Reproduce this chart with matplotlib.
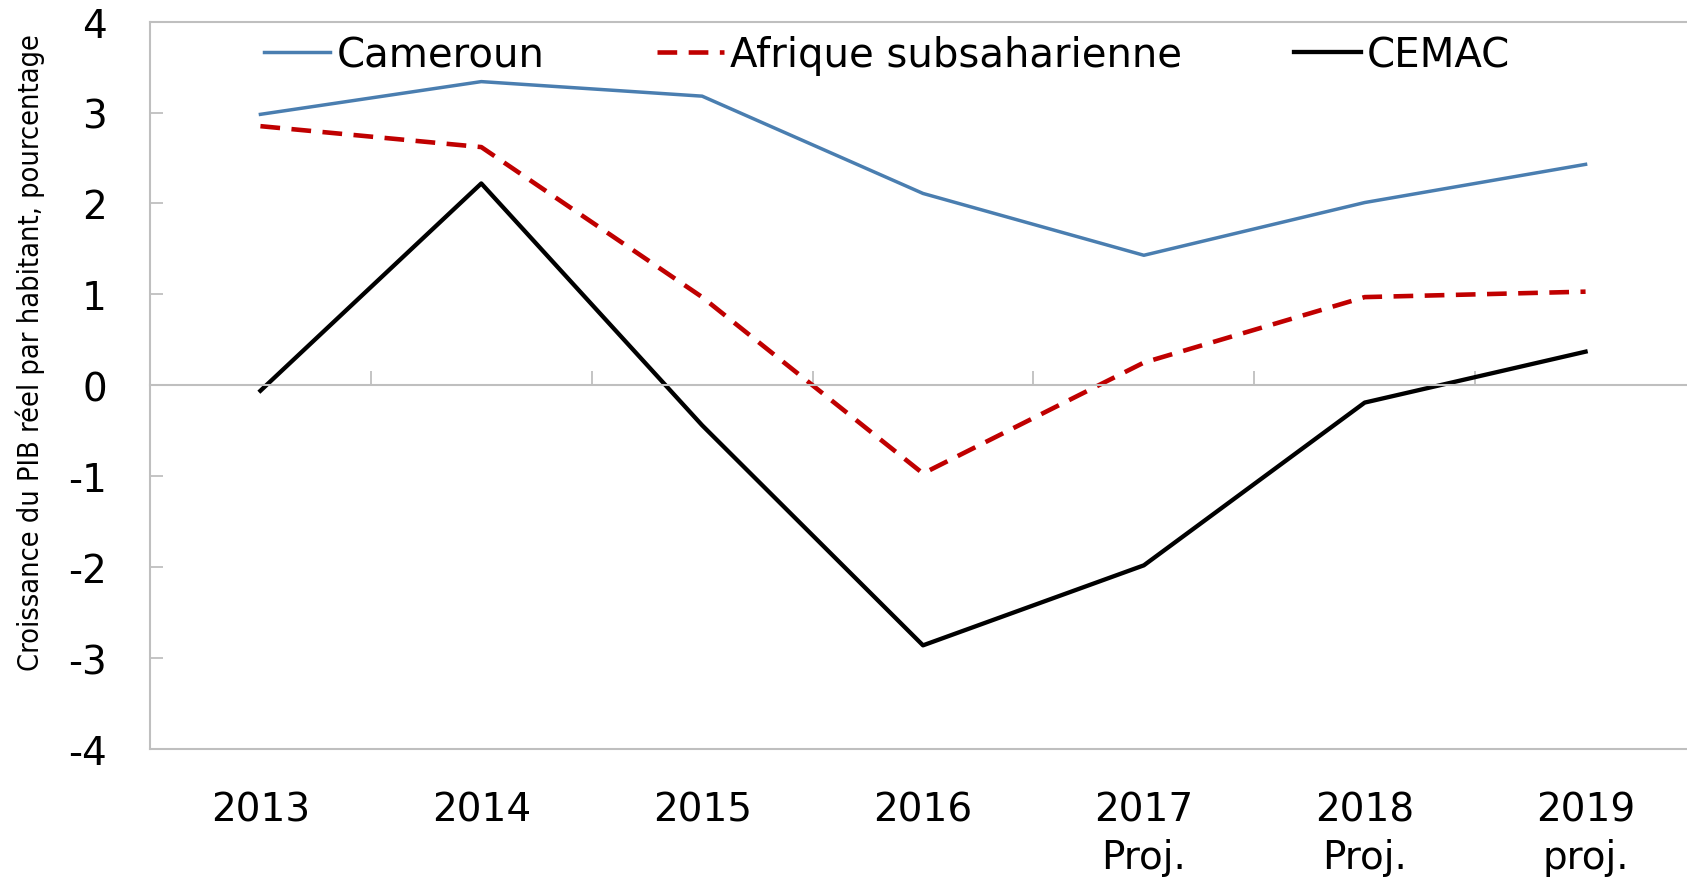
import numpy as np
import matplotlib
matplotlib.use('Agg')
import matplotlib.pyplot as plt

years = ['2013', '2014', '2015', '2016', '2017\nProj.', '2018\nProj.', '2019\nproj.']
cameroun = [2.98, 3.34, 3.18, 2.11, 1.43, 2.01, 2.43]
afrique = [2.85, 2.62, 0.97, -0.97, 0.25, 0.97, 1.03]
cemac = [-0.06, 2.22, -0.44, -2.86, -1.98, -0.19, 0.37]
yticks = [-4, -3, -2, -1, 0, 1, 2, 3, 4]

plt.rcParams['font.family'] = ['DejaVu Sans']
plt.rcParams['axes.unicode_minus'] = False

fig = plt.figure(figsize=(16.87, 8.79), dpi=100)
ax = fig.add_axes([150/1687, 1-750/879, (1696-150)/1687, (750-22.6)/879])

x = np.arange(len(years))
ax.plot(x, cameroun, color='#4A7EB0', lw=2.5, label='Cameroun')
ax.plot(x, afrique, color='#C00000', lw=3.3, dashes=(4.3, 2.5), label='Afrique subsaharienne')
ax.plot(x, cemac, color='black', lw=3.1, label='CEMAC')

ax.set_xlim(-0.5, len(years)-0.5)
ax.set_ylim(-4, 4)

gray = '#BFBFBF'
for s in ['left', 'top', 'right']:
    ax.spines[s].set_color(gray)
    ax.spines[s].set_linewidth(1.5)
# horizontal axis crosses at zero, tick marks at category boundaries
ax.spines['bottom'].set_position(('data', 0))
ax.spines['bottom'].set_color(gray)
ax.spines['bottom'].set_linewidth(1.5)
ax.set_xticks(np.arange(len(years)+1) - 0.5)
ax.tick_params(axis='x', direction='in', length=10, width=1.3, color=gray, labelbottom=False)

# category labels along the bottom of the plot area
sec = ax.secondary_xaxis('bottom')
sec.set_xticks(x)
sec.set_xticklabels(years)
sec.spines['bottom'].set_color(gray)
sec.spines['bottom'].set_linewidth(1.5)
sec.tick_params(length=0, pad=30, labelsize=28)
for lbl in sec.get_xticklabels():
    lbl.set_linespacing(1.3)

ax.set_yticks(yticks)
ax.set_yticklabels([str(v) for v in yticks])
ax.tick_params(axis='y', direction='in', length=9, width=1.3, color=gray, labelsize=28, pad=31)

fig.text(30/1687, 1-353/879, 'Croissance du PIB réel par habitant, pourcentage',
         rotation=90, ha='center', va='center', fontsize=20.7, fontstretch='condensed')

ax.legend(ncol=3, loc='center left', bbox_to_anchor=(264/1687, 1-56/879),
          bbox_transform=fig.transFigure, frameon=False, fontsize=29,
          handlelength=1.65, handletextpad=0.15, columnspacing=2.8,
          borderpad=0, borderaxespad=0)

fig.savefig('out.png', dpi=100)
